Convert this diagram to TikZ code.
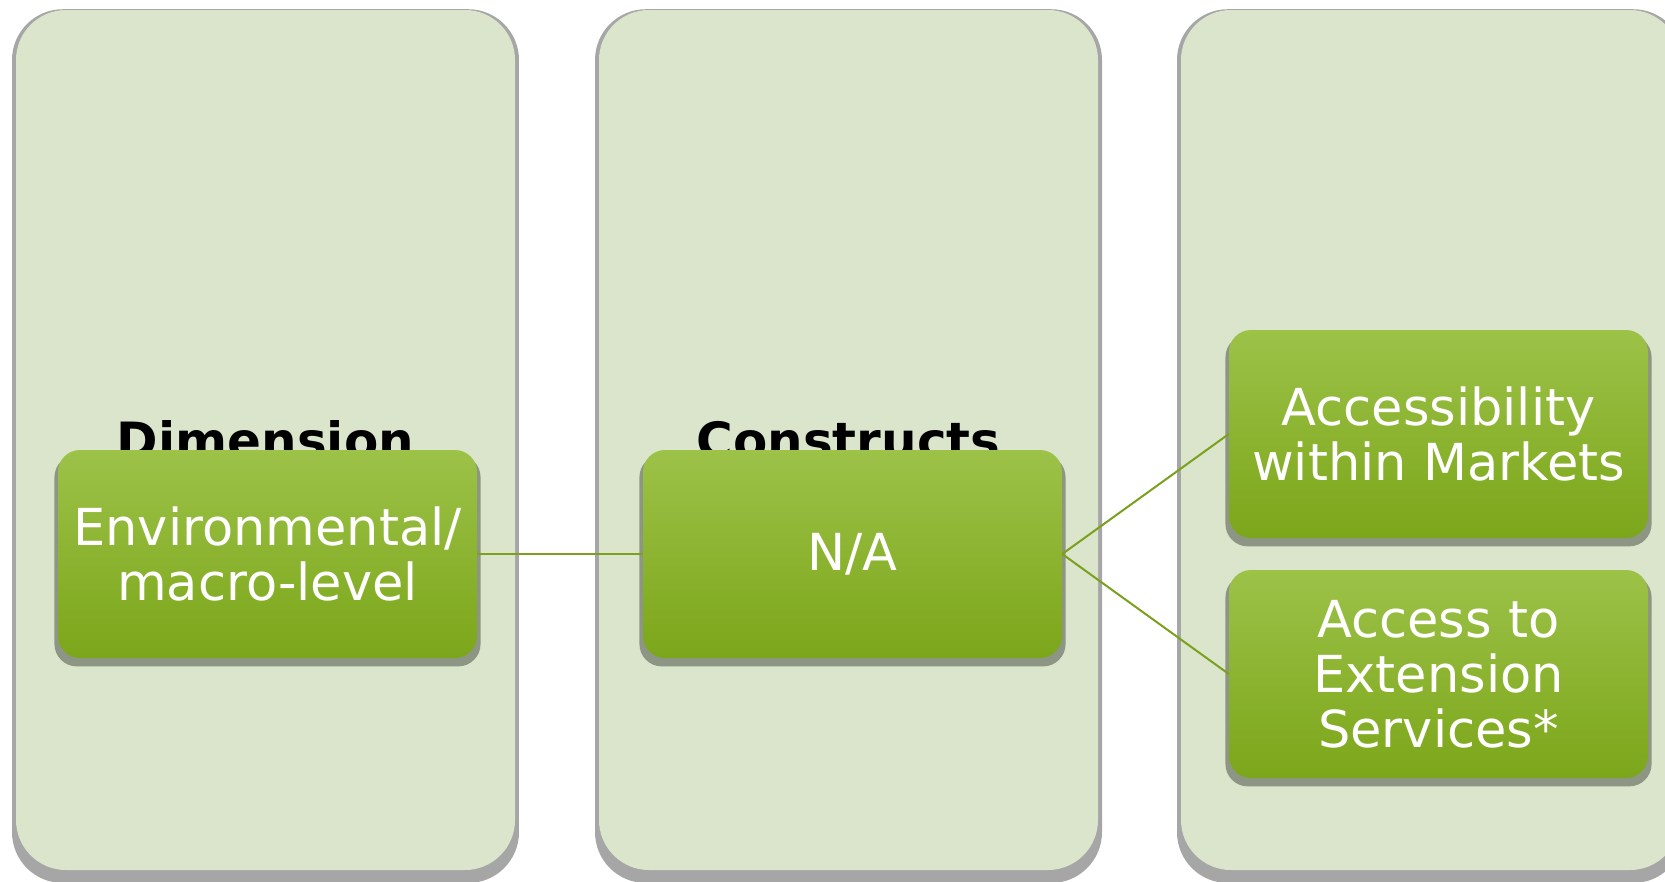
\documentclass[tikz,border=0pt]{standalone}
\usepackage{fontspec}
\setmainfont{DejaVu Sans}
\usetikzlibrary{shadows}

\definecolor{panelfill}{RGB}{218,229,203}
\definecolor{panelshade}{RGB}{166,166,166}
\definecolor{greentop}{RGB}{156,194,72}
\definecolor{greenbot}{RGB}{124,166,26}
\definecolor{boxshade}{RGB}{141,150,132}
\definecolor{linkgreen}{RGB}{122,160,30}

\tikzset{
  panel/.style={rectangle, rounded corners=50pt, fill=panelfill,
    minimum width=499pt, minimum height=860pt, inner sep=0pt,
    drop shadow={shadow xshift=0pt, shadow yshift=-6pt, shadow scale=1.016,
      fill=panelshade, opacity=1}},
  coltitle/.style={anchor=base, text=black,
    font=\bfseries\fontsize{50}{60}\selectfont},
  greenbox/.style={rectangle, rounded corners=22pt, top color=greentop,
    bottom color=greenbot, draw=none, minimum width=419pt, minimum height=208pt,
    inner sep=0pt, align=center, text=white,
    font=\fontsize{51}{55}\selectfont,
    drop shadow={shadow xshift=0pt, shadow yshift=-6.5pt, shadow scale=1.017,
      fill=boxshade, opacity=1}}
}

\begin{document}
\begin{tikzpicture}[x=1pt,y=-1pt]
  \useasboundingbox (0,0) rectangle (1665,881);
  \clip (0,0) rectangle (1665,881);

  % background columns
  \node[panel] (colA) at (265.5,440) {};
  \node[panel] (colB) at (848.5,440) {};
  \node[panel] (colC) at (1430.5,440) {};

  \node[coltitle] (tA) at (265.5,458) {Dimension};
  \node[coltitle] (tB) at (848.5,458) {Constructs};

  \begin{scope}[every node/.style={greenbox}]
    \node (env) at (267.5,554) {Environmental/\\macro-level};
    \node (na) at (852.5,554) {N/A};
    \node (acc) at (1438.5,434) {Accessibility\\within Markets};
    \node (ext) at (1438.5,674) {Access to\\Extension\\Services*};
  \end{scope}

  \begin{scope}[every edge/.style={draw=linkgreen,line width=2pt}]
    \path (env.east) edge (na.west);
    \path (na.east) edge (acc.west);
    \path (na.east) edge (ext.west);
  \end{scope}
\end{tikzpicture}
\end{document}
